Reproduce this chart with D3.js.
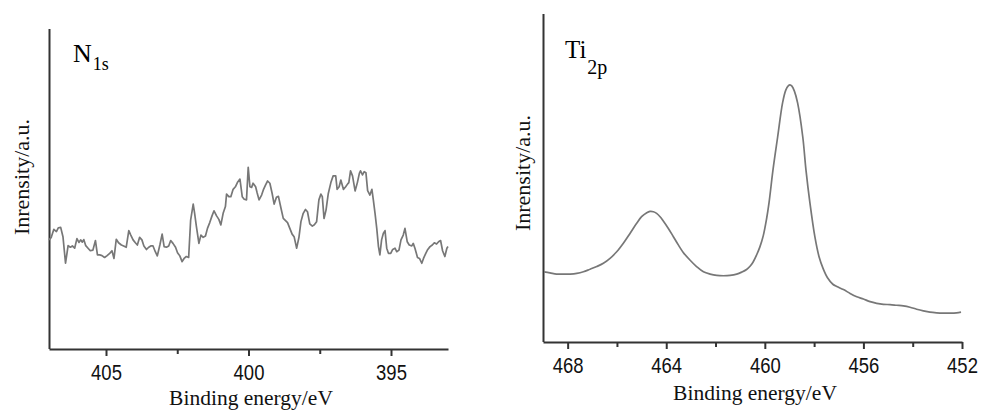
<!DOCTYPE html>
<html>
<head>
<meta charset="utf-8">
<script src="https://cdn.jsdelivr.net/npm/d3@7"></script>
<style>
  html, body { margin: 0; padding: 0; background: #fff; }
  svg { display: block; }
</style>
</head>
<body>
<svg id="chart" width="984" height="416"></svg>
<script>
// N 1s spectrum: binding energy (eV) and intensity (a.u.)
const n1sEnergy = [407.00,406.92,406.83,406.74,406.67,406.59,406.51,406.42,406.33,406.25,406.18,406.10,406.02,405.95,405.89,405.83,405.78,405.71,405.63,405.55,405.46,405.37,405.30,405.22,405.14,405.05,404.96,404.87,404.79,404.72,404.64,404.56,404.46,404.38,404.29,404.20,404.13,404.05,403.97,403.90,403.82,403.74,403.67,403.58,403.50,403.43,403.35,403.27,403.20,403.11,403.03,402.96,402.88,402.80,402.73,402.65,402.56,402.49,402.41,402.33,402.26,402.18,402.10,402.03,401.94,401.89,401.83,401.74,401.67,401.59,401.51,401.44,401.36,401.28,401.21,401.12,401.04,400.97,400.89,400.81,400.77,400.69,400.62,400.54,400.46,400.39,400.30,400.22,400.15,400.07,400.01,399.95,399.89,399.84,399.75,399.70,399.63,399.54,399.48,399.40,399.33,399.25,399.17,399.10,399.02,398.95,398.86,398.78,398.70,398.63,398.55,398.47,398.40,398.31,398.23,398.16,398.08,398.00,397.93,397.85,397.76,397.69,397.61,397.53,397.46,397.41,397.35,397.28,397.20,397.11,397.03,396.94,396.89,396.82,396.76,396.67,396.59,396.52,396.48,396.42,396.35,396.26,396.18,396.11,396.07,396.00,395.94,395.88,395.82,395.74,395.67,395.62,395.56,395.50,395.44,395.39,395.33,395.27,395.21,395.15,395.09,395.01,394.94,394.86,394.80,394.72,394.65,394.57,394.51,394.43,394.36,394.27,394.22,394.16,394.07,394.00,393.92,393.86,393.78,393.71,393.63,393.55,393.48,393.40,393.33,393.26,393.19,393.11,393.04,393.00];
const n1sIntensity = [34.1,34.9,37.4,36.7,37.9,38.0,35.1,26.8,32.3,31.8,32.2,31.5,34.5,33.3,34.1,33.4,34.2,32.3,31.5,30.7,30.9,33.9,29.4,29.4,29.2,28.6,29.2,29.9,30.7,28.3,34.3,33.2,32.5,32.2,31.8,37.0,35.6,34.1,33.2,32.5,34.9,34.1,32.2,31.1,31.8,32.2,32.2,30.4,29.1,32.5,35.9,32.0,31.8,32.2,33.9,33.0,31.8,30.1,29.1,27.3,28.3,28.9,28.6,40.3,45.3,42.4,38.4,33.0,35.6,34.9,35.3,37.7,39.5,41.6,43.2,41.6,40.5,38.8,42.4,44.5,48.4,47.6,47.6,49.9,50.7,52.0,53.1,47.6,46.8,46.6,56.8,50.7,50.5,51.8,50.7,48.9,46.6,48.1,49.7,51.3,52.5,51.8,48.6,45.3,47.4,47.7,44.0,40.8,40.1,39.5,37.7,35.9,35.1,31.5,34.9,39.8,42.4,43.6,42.9,39.1,38.4,38.8,39.8,46.6,48.4,47.6,40.8,43.4,48.6,52.0,54.1,54.1,49.9,50.7,52.8,49.9,50.7,51.6,52.0,55.7,54.1,49.4,52.0,54.9,55.7,54.4,55.4,55.1,49.5,48.1,49.9,46.6,42.4,37.7,32.0,29.4,34.1,36.1,37.0,31.5,29.9,29.9,31.1,31.5,30.4,30.9,34.1,35.6,37.7,33.5,32.5,32.2,33.0,31.5,28.6,28.3,26.8,28.3,29.9,31.1,32.0,32.5,33.2,32.8,33.5,33.9,30.7,28.9,31.5,32.0];

// Ti 2p spectrum: binding energy (eV) and intensity (a.u.)
const ti2pEnergy = [468.96,468.72,468.45,468.18,467.90,467.63,467.36,467.09,466.82,466.55,466.28,466.01,465.74,465.47,465.20,465.00,464.79,464.66,464.52,464.39,464.25,464.12,463.92,463.71,463.51,463.31,463.04,462.77,462.49,462.22,461.95,461.68,461.41,461.14,460.94,460.74,460.60,460.48,460.33,460.20,460.06,459.93,459.83,459.67,459.48,459.28,459.15,459.05,458.98,458.90,458.80,458.67,458.46,458.33,458.17,457.97,457.80,457.63,457.45,457.24,457.08,456.81,456.54,456.27,456.00,455.73,455.46,455.19,454.92,454.65,454.38,454.11,453.84,453.57,453.30,453.03,452.76,452.49,452.22,452.04];
const ti2pIntensity = [21.4,21.1,20.7,20.7,20.7,20.9,21.4,22.2,23.0,24.0,25.5,27.5,30.1,33.1,36.2,38.2,39.4,39.8,39.7,39.2,38.2,36.9,34.7,32.1,29.6,27.3,25.0,23.0,21.4,20.7,20.3,20.2,20.3,20.7,21.3,22.1,23.1,24.3,26.6,29.0,32.5,37.5,42.4,52.4,62.5,72.9,76.8,78.1,78.4,78.0,76.5,72.9,62.5,52.4,42.4,32.1,26.0,22.3,19.5,17.6,16.9,16.0,14.8,13.8,13.1,12.3,11.8,11.5,11.4,11.2,11.0,10.6,10.0,9.5,9.1,8.9,8.8,8.8,8.9,9.1];

// Axis ticks
const n1sMajorTicks = [405, 400, 395];
const n1sMinorTicks = [402.5, 397.5];
const ti2pMajorTicks = [468, 464, 460, 456, 452];
const ti2pMinorTicks = [466, 462, 458, 454];

const xTitle = "Binding energy/eV";
const yTitle = "Inrensity/a.u.";

const svg = d3.select("#chart");
const serif = "'Liberation Serif', 'Times New Roman', Times, serif";
const sans = "'Liberation Sans', Arial, Helvetica, sans-serif";

function panel(opts) {
  const x = d3.scaleLinear().domain(opts.xDomain).range([opts.left, opts.right]);
  const y = d3.scaleLinear().domain([0, 100]).range([opts.bottom, opts.top]);
  const g = svg.append("g");

  // minor ticks
  g.append("g")
    .attr("transform", `translate(0,${opts.bottom})`)
    .call(d3.axisBottom(x).tickValues(opts.minor).tickSize(5).tickSizeOuter(0).tickFormat(""))
    .call(a => a.select(".domain").remove())
    .call(a => a.selectAll("line").attr("stroke", "#333").attr("stroke-width", 2));

  // major ticks with labels
  g.append("g")
    .attr("transform", `translate(0,${opts.bottom})`)
    .call(d3.axisBottom(x).tickValues(opts.major).tickSize(7).tickSizeOuter(0).tickFormat(d3.format("d")))
    .call(a => a.select(".domain").attr("stroke", "#333").attr("stroke-width", 2))
    .call(a => a.selectAll("line").attr("stroke", "#333").attr("stroke-width", 2))
    .call(a => a.selectAll("text")
      .attr("y", 31).attr("dy", null)
      .attr("fill", "#111")
      .attr("font-family", sans)
      .attr("font-size", 22)
      .attr("transform", "scale(0.84,1)"));

  // vertical axis (no ticks)
  g.append("g")
    .attr("transform", `translate(${opts.left},0)`)
    .call(d3.axisLeft(y).tickValues([]).tickSizeOuter(0))
    .call(a => a.select(".domain").attr("stroke", "#333").attr("stroke-width", 2))
    .call(a => a.select(".domain").attr("d", `M0.5,${opts.top}V${opts.bottom}`));

  // spectrum
  const pts = opts.energy.map((e, i) => [e, opts.intensity[i]]);
  g.append("path")
    .datum(pts)
    .attr("fill", "none")
    .attr("stroke", "#777")
    .attr("stroke-width", 1.7)
    .attr("stroke-linejoin", "round")
    .attr("d", d3.line().x(d => x(d[0])).y(d => y(d[1])).curve(opts.curve));

  // axis titles
  g.append("text")
    .attr("x", opts.xTitleX).attr("y", opts.bottom + opts.xTitleDy)
    .attr("text-anchor", "middle")
    .attr("font-family", serif).attr("font-size", 21.5).attr("fill", "#111")
    .text(xTitle);

  g.append("text")
    .attr("transform", `translate(${opts.yTitleX},${opts.yTitleY}) rotate(-90)`)
    .attr("text-anchor", "middle")
    .attr("font-family", serif).attr("font-size", 22).attr("fill", "#111")
    .text(yTitle);

  // element label with subscript
  const lbl = g.append("text")
    .attr("x", opts.labelX).attr("y", opts.labelY)
    .attr("font-family", serif).attr("fill", "#000");
  lbl.append("tspan").attr("font-size", opts.labelSize).text(opts.label);
  lbl.append("tspan").attr("font-size", opts.subSize).attr("dx", 1).attr("dy", opts.subDy).text(opts.sub);
}

panel({
  xDomain: [407, 393], left: 49, right: 448, top: 29, bottom: 349,
  major: n1sMajorTicks, minor: n1sMinorTicks,
  energy: n1sEnergy, intensity: n1sIntensity, curve: d3.curveLinear,
  xTitleX: 251, xTitleDy: 56, yTitleX: 29, yTitleY: 177,
  label: "N", sub: "1s", labelX: 73, labelY: 62, labelSize: 26, subSize: 18, subDy: 8
});

panel({
  xDomain: [469, 452], left: 543, right: 962, top: 14, bottom: 342,
  major: ti2pMajorTicks, minor: ti2pMinorTicks,
  energy: ti2pEnergy, intensity: ti2pIntensity, curve: d3.curveCatmullRom,
  xTitleX: 755, xTitleDy: 58, yTitleX: 530, yTitleY: 173,
  label: "Ti", sub: "2p", labelX: 565, labelY: 58, labelSize: 25, subSize: 20, subDy: 16
});
</script>
</body>
</html>
